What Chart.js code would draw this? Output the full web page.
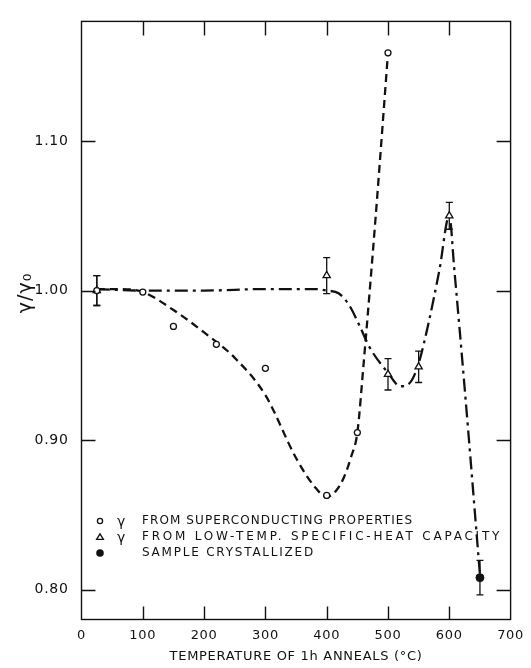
<!DOCTYPE html>
<html>
<head>
<meta charset="utf-8">
<script src="https://cdn.jsdelivr.net/npm/chart.js@4.4.1/dist/chart.umd.min.js"></script>
<style>
  html, body { margin: 0; padding: 0; background: #fff; }
  canvas { display: block; }
</style>
</head>
<body>
<canvas id="chart" width="531" height="668"></canvas>
<script>
// Axis ticks
const xTicks = [0, 100, 200, 300, 400, 500, 600, 700];
const yTicks = [0.80, 0.90, 1.00, 1.10];

// gamma from superconducting properties (open circles)
const scTemp  = [25, 100, 150, 220, 300, 400, 450, 500];
const scGamma = [1.000, 0.999, 0.976, 0.964, 0.948, 0.863, 0.905, 1.159];
const scErr   = [0.010, 0, 0, 0, 0, 0, 0, 0];

// gamma from low-temperature specific-heat capacity (open triangles)
const shTemp  = [25, 400, 500, 550, 600];
const shGamma = [1.000, 1.010, 0.944, 0.949, 1.050];
const shErr   = [0.010, 0.012, 0.0105, 0.0105, 0.009];

// crystallized sample (filled circle)
const crTemp  = [650];
const crGamma = [0.808];
const crErr   = [0.0115];

// hand-drawn guide curves
const scCurveTemp  = [25, 60, 100, 150, 200, 250, 300, 350, 380, 400, 415, 428, 440, 450, 460, 480, 500];
const scCurveGamma = [1.001, 1.001, 0.999, 0.987, 0.972, 0.955, 0.930, 0.888, 0.869, 0.862, 0.866, 0.875, 0.889, 0.905, 0.950, 1.050, 1.159];
const shCurveTemp  = [25, 100, 200, 300, 380, 400, 420, 437, 453, 470, 500, 520, 535, 549, 566, 584, 600, 608, 625, 650];
const shCurveGamma = [1.001, 1.000, 1.000, 1.001, 1.001, 1.000, 0.998, 0.990, 0.977, 0.962, 0.945, 0.936, 0.938, 0.950, 0.978, 1.014, 1.050, 1.015, 0.935, 0.810];

const legendLabels = [
  'FROM SUPERCONDUCTING PROPERTIES',
  'FROM LOW-TEMP. SPECIFIC-HEAT CAPACITY',
  'SAMPLE CRYSTALLIZED'
];

const INK = '#111';
const FONT = '"DejaVu Sans", "Liberation Sans", sans-serif';

const pts = (xs, ys) => xs.map((x, i) => ({ x, y: ys[i] }));

// frame, inward tick marks, error bars, legend and y title
const decorations = {
  id: 'decorations',
  beforeDraw(chart) {
    chart.ctx.letterSpacing = '0.7px';
  },
  beforeDatasetsDraw(chart) {
    const { ctx, scales: { x, y } } = chart;
    ctx.save();
    ctx.strokeStyle = INK;
    ctx.lineWidth = 1.3;
    const bars = [[scTemp, scGamma, scErr], [shTemp, shGamma, shErr], [crTemp, crGamma, crErr]];
    bars.forEach(([ts, gs, es]) => {
      ts.forEach((t, i) => {
        if (!es[i]) return;
        const px = x.getPixelForValue(t);
        const top = y.getPixelForValue(gs[i] + es[i]);
        const bot = y.getPixelForValue(gs[i] - es[i]);
        ctx.beginPath();
        ctx.moveTo(px, top); ctx.lineTo(px, bot);
        ctx.moveTo(px - 3.5, top); ctx.lineTo(px + 3.5, top);
        ctx.moveTo(px - 3.5, bot); ctx.lineTo(px + 3.5, bot);
        ctx.stroke();
      });
    });
    ctx.restore();
  },
  afterDraw(chart) {
    const { ctx, chartArea: a, scales: { x, y } } = chart;
    ctx.save();
    ctx.strokeStyle = INK;
    ctx.lineWidth = 1.4;
    ctx.strokeRect(a.left, a.top, a.right - a.left, a.bottom - a.top);
    ctx.beginPath();
    xTicks.slice(1, -1).forEach(v => {
      const px = Math.round(x.getPixelForValue(v)) + 0.5;
      ctx.moveTo(px, a.bottom); ctx.lineTo(px, a.bottom - 13);
      ctx.moveTo(px, a.top); ctx.lineTo(px, a.top + 14);
    });
    yTicks.forEach(v => {
      const py = Math.round(y.getPixelForValue(v)) + 0.5;
      ctx.moveTo(a.left, py); ctx.lineTo(a.left + 14, py);
      ctx.moveTo(a.right, py); ctx.lineTo(a.right - 14, py);
    });
    ctx.stroke();

    // legend
    const lx = 100, gx = 121, tx = 142, rows = [521, 537, 553];
    const widths = [271, 360, 173];
    ctx.fillStyle = INK;
    ctx.lineWidth = 1.3;
    // open circle
    ctx.beginPath(); ctx.arc(lx, rows[0], 2.6, 0, Math.PI * 2); ctx.stroke();
    // open triangle
    ctx.beginPath();
    ctx.moveTo(lx, rows[1] - 3.2); ctx.lineTo(lx + 3.4, rows[1] + 2.4); ctx.lineTo(lx - 3.4, rows[1] + 2.4);
    ctx.closePath(); ctx.stroke();
    // filled circle
    ctx.beginPath(); ctx.arc(lx, rows[2], 3.8, 0, Math.PI * 2); ctx.fill();

    ctx.textBaseline = 'middle';
    ctx.textAlign = 'left';
    ctx.font = '14px ' + FONT;
    ctx.letterSpacing = '0px';
    ctx.fillText('γ', gx - 4, rows[0] + 1);
    ctx.fillText('γ', gx - 4, rows[1] + 1);
    ctx.font = '12px ' + FONT;
    legendLabels.forEach((s, i) => {
      ctx.letterSpacing = '0px';
      const w = ctx.measureText(s).width;
      const sp = Math.max(0, (widths[i] - w) / s.length);
      ctx.letterSpacing = sp.toFixed(2) + 'px';
      ctx.fillText(s, tx, rows[i]);
    });

    // y axis title
    ctx.save();
    ctx.translate(26, 293);
    ctx.rotate(-Math.PI / 2);
    ctx.textAlign = 'center';
    ctx.letterSpacing = '1px';
    ctx.font = '19px ' + FONT;
    ctx.fillText('γ/γ₀', 0, 0);
    ctx.restore();

    ctx.restore();
  }
};

new Chart(document.getElementById('chart'), {
  type: 'scatter',
  data: {
    datasets: [
      {
        label: 'γ from superconducting properties',
        data: pts(scTemp, scGamma),
        pointStyle: 'circle', pointRadius: 3, pointBorderWidth: 1.3,
        pointBackgroundColor: '#fff', pointBorderColor: INK,
        showLine: false, order: 0
      },
      {
        label: 'γ from low-temp. specific-heat capacity',
        data: pts(shTemp, shGamma),
        pointStyle: 'triangle', pointRadius: 4.2, pointBorderWidth: 1.3,
        pointBackgroundColor: '#fff', pointBorderColor: INK,
        showLine: false, order: 0
      },
      {
        label: 'sample crystallized',
        data: pts(crTemp, crGamma),
        pointStyle: 'circle', pointRadius: 4, pointBorderWidth: 1,
        pointBackgroundColor: INK, pointBorderColor: INK,
        showLine: false, order: 0
      },
      {
        label: 'superconducting guide curve',
        data: pts(scCurveTemp, scCurveGamma),
        showLine: true, pointRadius: 0, borderColor: INK, borderWidth: 2.3,
        borderDash: [8, 5], cubicInterpolationMode: 'monotone', order: 2
      },
      {
        label: 'specific-heat guide curve',
        data: pts(shCurveTemp, shCurveGamma),
        showLine: true, pointRadius: 0, borderColor: INK, borderWidth: 2.3,
        borderDash: [13, 5, 3, 5], cubicInterpolationMode: 'monotone', order: 2
      }
    ]
  },
  options: {
    responsive: false,
    animation: false,
    devicePixelRatio: 1,
    layout: { padding: { left: 0, top: 6.5, right: 13.5, bottom: 0 } },
    plugins: { legend: { display: false }, tooltip: { enabled: false } },
    scales: {
      x: {
        type: 'linear', min: 0, max: 700,
        afterBuildTicks: ax => { ax.ticks = xTicks.map(v => ({ value: v })); },
        afterFit: ax => { ax.height = 48.5; },
        grid: { display: false, drawTicks: false },
        border: { display: false },
        ticks: { color: INK, padding: 8, maxRotation: 0, autoSkip: false,
                 font: { family: FONT, size: 13 }, callback: v => String(v) },
        title: { display: true, text: 'TEMPERATURE OF 1h ANNEALS (°C)', color: INK,
                 font: { family: FONT, size: 13 }, padding: { top: 0, bottom: 4 } }
      },
      y: {
        type: 'linear', min: 0.78, max: 1.18,
        afterBuildTicks: ax => { ax.ticks = yTicks.map(v => ({ value: v })); },
        afterFit: ax => { ax.width = 81.5; },
        grid: { display: false, drawTicks: false },
        border: { display: false },
        ticks: { color: INK, padding: 13, autoSkip: false,
                 font: { family: FONT, size: 14 }, callback: v => v.toFixed(2) }
      }
    }
  },
  plugins: [decorations]
});
</script>
</body>
</html>
